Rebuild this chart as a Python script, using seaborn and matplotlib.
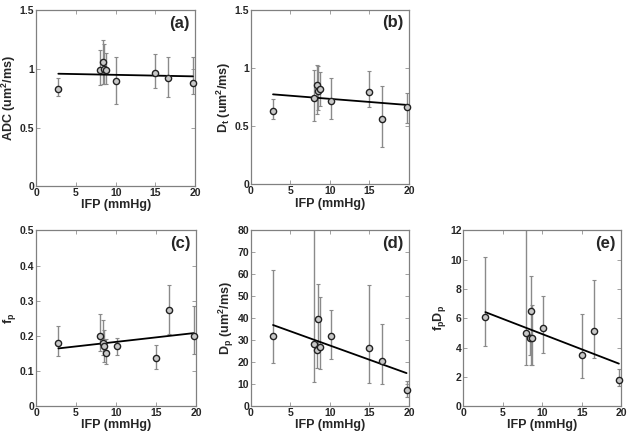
import numpy as np
import matplotlib
matplotlib.use("Agg")
import matplotlib.pyplot as plt
import seaborn as sns

# IFP values (mmHg), shared by all panels
ifp = [2.8, 8.0, 8.4, 8.55, 8.75, 10.1, 15.0, 16.6, 19.7]

# (a) ADC
adc = [0.83, 0.99, 1.06, 1.00, 0.99, 0.90, 0.97, 0.92, 0.88]
adc_lo = [0.77, 0.86, 0.87, 0.875, 0.875, 0.70, 0.84, 0.76, 0.79]
adc_hi = [0.92, 1.165, 1.25, 1.21, 1.14, 1.10, 1.125, 1.10, 1.10]

# (b) Dt
dt = [0.63, 0.74, 0.85, 0.80, 0.815, 0.715, 0.79, 0.565, 0.66]
dt_lo = [0.557, 0.543, 0.60, 0.637, 0.671, 0.557, 0.666, 0.323, 0.523]
dt_hi = [0.731, 0.98, 1.023, 1.017, 0.966, 0.917, 0.971, 0.843, 0.78]

# (c) fp
fp = [0.181, 0.200, 0.181, 0.170, 0.152, 0.170, 0.137, 0.274, 0.200]
fp_lo = [0.143, 0.156, 0.145, 0.126, 0.121, 0.145, 0.107, 0.204, 0.147]
fp_hi = [0.227, 0.263, 0.244, 0.216, 0.192, 0.195, 0.173, 0.344, 0.284]

# (d) Dp
dp = [31.7, 28.3, 25.5, 39.5, 27.0, 31.7, 26.5, 20.5, 7.5]
dp_lo = [19.7, 10.8, 17.5, 28.0, 16.8, 21.3, 10.6, 10.3, 4.0]
dp_hi = [62.1, 100.0, 29.0, 55.8, 49.5, 43.8, 55.3, 37.4, 11.6]

# (e) fp*Dp
fpdp = [6.1, 5.0, 4.65, 6.5, 4.68, 5.36, 3.48, 5.1, 1.77]
fpdp_lo = [4.1, 2.8, 3.5, 2.8, 2.8, 3.66, 1.93, 3.3, 1.36]
fpdp_hi = [10.2, 14.0, 4.9, 8.86, 6.9, 7.5, 6.3, 8.6, 2.52]

panels = [
    ("(a)", "ADC (um$^2$/ms)", adc, adc_lo, adc_hi, (0, 1.5), [0, 0.5, 1, 1.5], ["0", "0.5", "1", "1.5"]),
    ("(b)", "D$_t$ (um$^2$/ms)", dt, dt_lo, dt_hi, (0, 1.5), [0, 0.5, 1, 1.5], ["0", "0.5", "1", "1.5"]),
    ("(c)", "f$_p$", fp, fp_lo, fp_hi, (0, 0.5), [0, 0.1, 0.2, 0.3, 0.4, 0.5], ["0", "0.1", "0.2", "0.3", "0.4", "0.5"]),
    ("(d)", "D$_p$ (um$^2$/ms)", dp, dp_lo, dp_hi, (0, 80), list(range(0, 81, 10)), None),
    ("(e)", "f$_p$D$_p$", fpdp, fpdp_lo, fpdp_hi, (0, 12), list(range(0, 13, 2)), None),
]

# axes rectangles in figure fraction [left, bottom, width, height]
rects = [
    [0.057, 0.570, 0.252, 0.406],
    [0.397, 0.574, 0.250, 0.404],
    [0.057, 0.062, 0.253, 0.406],
    [0.397, 0.062, 0.250, 0.406],
    [0.733, 0.062, 0.250, 0.406],
]

sns.set_style("ticks")
plt.rcParams["font.family"] = ["Liberation Sans", "DejaVu Sans"]
plt.rcParams["font.weight"] = "bold"
plt.rcParams["mathtext.fontset"] = "custom"
plt.rcParams["mathtext.rm"] = "Liberation Sans:bold"
plt.rcParams["mathtext.bf"] = "Liberation Sans:bold"
plt.rcParams["mathtext.it"] = "Liberation Sans:bold"
plt.rcParams["mathtext.default"] = "bf"

fig = plt.figure(figsize=(6.32, 4.33), dpi=100)

for rect, (tag, ylab, y, lo, hi, ylim, yticks, ylabels) in zip(rects, panels):
    ax = fig.add_axes(rect)
    x = np.array(ifp)
    yv = np.array(y)
    yerr = [yv - np.array(lo), np.array(hi) - yv]
    ax.errorbar(x, yv, yerr=yerr, fmt="none", ecolor="#8a8a8a",
                elinewidth=1.0, capsize=1.5, capthick=0.8, zorder=2)
    sns.regplot(x=x, y=yv, ax=ax, scatter=False, ci=None, truncate=True,
                line_kws={"color": "black", "lw": 1.3, "zorder": 3})
    sns.scatterplot(x=x, y=yv, ax=ax, marker="o", s=20, fc="#c8c8c8",
                    ec="#222222", linewidth=1.0, zorder=4, clip_on=False)
    ax.set_xlim(0, 20)
    ax.set_ylim(*ylim)
    ax.set_xticks([0, 5, 10, 15, 20])
    ax.set_yticks(yticks)
    if ylabels is not None:
        ax.set_yticklabels(ylabels)
    ax.tick_params(direction="in", length=3, width=0.6, color="#909090",
                   top=True, right=True, labelsize=7.5, pad=1.2)
    for lab in ax.get_xticklabels() + ax.get_yticklabels():
        lab.set_fontweight("bold")
    for sp in ax.spines.values():
        sp.set_color("#808080")
        sp.set_linewidth(0.9)
    ax.set_xlabel("IFP (mmHg)", fontsize=9, fontweight="bold", labelpad=1)
    ax.set_ylabel(ylab, fontsize=9, fontweight="bold", labelpad=1.5)
    ax.text(0.965, 0.925, tag, transform=ax.transAxes, ha="right", va="center",
            fontsize=12, fontweight="bold")

fig.savefig("out.png", dpi=100)
